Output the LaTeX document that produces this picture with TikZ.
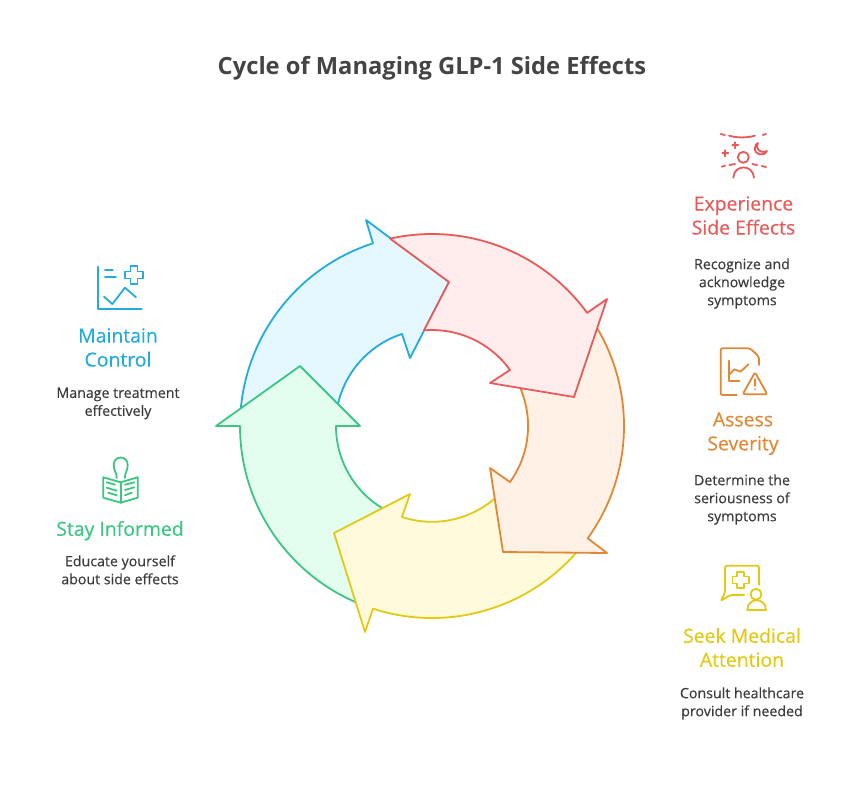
\documentclass[tikz,border=0pt]{standalone}
\usepackage{fontspec}
\setmainfont{Open Sans}
\newfontfamily\medfont[FakeBold=0.35]{Open Sans}
\definecolor{ttl}{HTML}{444444}
\definecolor{txt}{HTML}{3C3C3C}
\definecolor{redln}{HTML}{E85A5A}
\definecolor{redfl}{HTML}{FFEDED}
\definecolor{orgln}{HTML}{E08835}
\definecolor{orgfl}{HTML}{FFF1E5}
\definecolor{yelln}{HTML}{E2C914}
\definecolor{yelfl}{HTML}{FFFADB}
\definecolor{grnln}{HTML}{3CC583}
\definecolor{grnfl}{HTML}{E3FDEF}
\definecolor{bluln}{HTML}{22ABDB}
\definecolor{blufl}{HTML}{E6F8FF}
\tikzset{
  ttlnode/.style={text=ttl,font=\fontsize{23.7}{28}\selectfont\bfseries},
  headnode/.style={align=center,font=\medfont\fontsize{19.4}{24}\selectfont,
    execute at begin node=\strut,execute at end node=\strut},
  descnode/.style={align=center,text=txt,font=\medfont\fontsize{14.2}{18}\selectfont,
    execute at begin node=\strut,execute at end node=\strut},
  arrowshape/.style={line width=1.8pt,line join=round},
  icon/.style={line width=1.8pt,line cap=round,line join=round}
}
\begin{document}
\begin{tikzpicture}[x=1pt,y=-1pt]
  \useasboundingbox (0,0) rectangle (864,792);
  \coordinate (ctr) at (432,426);
  \filldraw[arrowshape,draw=bluln,fill=blufl]
   (ctr) ++(185.4:192) arc[start angle=185.4,end angle=252.1,radius=192]
   -- (366,220) -- (449,282) -- (410,358) -- (402,334)
   arc[start angle=251.9,end angle=193.2,radius=96.5] -- cycle;
  \filldraw[arrowshape,draw=grnln,fill=grnfl]
   (ctr) ++(113.4:192) arc[start angle=113.4,end angle=180,radius=192]
   -- (216,426) -- (300,366) -- (360,426) -- (336,426)
   arc[start angle=180,end angle=120.9,radius=96] -- cycle;
  \filldraw[arrowshape,draw=yelln,fill=yelfl]
   (ctr) ++(41.2:192) arc[start angle=41.2,end angle=107.9,radius=192]
   -- (365,632) -- (334,533) -- (410,494) -- (402,517)
   arc[start angle=108.2,end angle=49.7,radius=96] -- cycle;
  \filldraw[arrowshape,draw=orgln,fill=orgfl]
   (ctr) ++(-30.7:192) arc[start angle=-30.7,end angle=35.8,radius=192]
   -- (607,553) -- (503,552) -- (490,468) -- (510,482)
   arc[start angle=35.7,end angle=-22.2,radius=96] -- cycle;
  \filldraw[arrowshape,draw=redln,fill=redfl]
   (ctr) ++(-102.6:192) arc[start angle=-102.6,end angle=-36.1,radius=192]
   -- (607,299) -- (574,397) -- (490,383) -- (510,370)
   arc[start angle=-35.7,end angle=-94.8,radius=96] -- (449,282) -- cycle;

  \node[ttlnode] (title) at (432,68) {Cycle of Managing GLP-1 Side Effects};

  \node[headnode,text=redln] (expHead) at (743.5,219) {Experience\\Side Effects};
  \node[descnode] (expDesc) at (742,284.5) {Recognize and\\acknowledge\\symptoms};
  \node[headnode,text=orgln] (assHead) at (743,435) {Assess\\Severity};
  \node[descnode] (assDesc) at (742,500.5) {Determine the\\seriousness of\\symptoms};
  \node[headnode,text=yelln] (seekHead) at (742,651) {Seek Medical\\Attention};
  \node[descnode] (seekDesc) at (742,704.5) {Consult healthcare\\provider if needed};
  \node[headnode,text=bluln] (ctlHead) at (118,351) {Maintain\\Control};
  \node[descnode] (ctlDesc) at (118,404.5) {Manage treatment\\effectively};
  \node[headnode,text=grnln] (infHead) at (120,531) {Stay Informed};
  \node[descnode] (infDesc) at (120,572.5) {Educate yourself\\about side effects};

  \begin{scope}[icon,draw=redln,color=redln]
    \draw (729,135.7) .. controls (738,138) and (746,138) .. (755,135.7);
    \draw (720.7,134) -- (724.7,135);
    \draw (762.7,135) -- (766,134);
    \draw (732.3,145.3) -- (738.3,145.3);
    \draw (735.3,142.3) -- (735.3,148.3);
    \draw (722.3,153.3) -- (728.3,153.3);
    \draw (725.3,150.3) -- (725.3,156.3);
    \draw (758,143) .. controls (755,149) and (760,154) .. (767,151)
          .. controls (764,157) and (754,155) .. (755,148)
          .. controls (755,145) and (756,144) .. (758,143) -- cycle;
    \draw (743.3,157.3) circle(5.5);
    \draw (733.3,177.7) .. controls (734,164) and (753,164) .. (754,177.7);
    \draw (721.7,166.7) -- (725,165.7);
    \draw (729.3,165) -- (735,164);
    \draw (752.3,164) -- (757.3,165);
    \draw (761.7,166) -- (766,167);
  \end{scope}

  \begin{scope}[icon,draw=orgln,color=orgln]
    \draw[rounded corners=2pt] (736.7,395) -- (720.7,395) -- (720.7,348.3) -- (750,348.3)
          -- (759,356.7) -- (759,365);
    \draw (729,360.7) -- (729,380.7) -- (739.3,380.7);
    \draw (729,375) -- (734.3,369.3) -- (740.7,371.7) -- (748.3,364.3);
    \draw[rounded corners=2pt] (755,372.3) -- (767.3,394.3) -- (742.7,394.3) -- cycle;
    \draw (755,379.3) -- (755,386);
    \fill (755,389.3) circle(1);
  \end{scope}

  \begin{scope}[icon,draw=yelln,color=yelln]
    \draw[rounded corners=2pt] (744.3,595) -- (730,595) -- (720.7,601) -- (725,593)
          -- (725,565.7) -- (759,565.7) -- (759,585);
    \draw (737.2,571.7) -- (744.2,571.7) -- (744.2,576.5) -- (749,576.5) -- (749,583.5)
          -- (744.2,583.5) -- (744.2,588.3) -- (737.2,588.3) -- (737.2,583.5) -- (732.4,583.5)
          -- (732.4,576.5) -- (737.2,576.5) -- cycle;
    \draw (756,594.3) circle(5.5);
    \draw (747.3,610) .. controls (747.3,597) and (766,597) .. (766,610) -- cycle;
  \end{scope}

  \begin{scope}[icon,draw=bluln,color=bluln]
    \draw (98,266.7) -- (98,309) -- (141.7,309);
    \draw (105,270) -- (112.7,270);
    \draw (105,276.7) -- (116,276.7);
    \draw (130.5,266) -- (137.5,266) -- (137.5,271.5) -- (143,271.5) -- (143,278.5)
          -- (137.5,278.5) -- (137.5,284) -- (130.5,284) -- (130.5,278.5) -- (125,278.5)
          -- (125,271.5) -- (130.5,271.5) -- cycle;
    \draw (104,296.7) -- (112.3,304) -- (125,287.7) -- (136,297.3);
  \end{scope}

  \begin{scope}[icon,draw=grnln,color=grnln]
    \draw (120.7,482.3) -- (103.3,477.3) -- (103.3,497.7) -- (120.7,502.7) -- (137.7,497.7)
          -- (137.7,477.3) -- cycle;
    \draw (120.7,482.3) -- (120.7,502.7);
    \draw (116.7,478) .. controls (117,473) and (113.7,471) .. (113.7,465)
          .. controls (113.7,455) and (127.7,455) .. (127.7,465)
          .. controls (127.7,471) and (124.5,473) .. (125,478);
    \draw (106.7,482.3) -- (115,484.7);
    \draw (106.7,487.7) -- (116.7,490.7);
    \draw (108.3,492.7) -- (116.7,495.3);
    \draw (125,484.7) -- (134.3,482.3);
    \draw (125,490) -- (134.3,487.3);
    \draw (125,495.3) -- (131.7,492.7);
  \end{scope}
\end{tikzpicture}
\end{document}
